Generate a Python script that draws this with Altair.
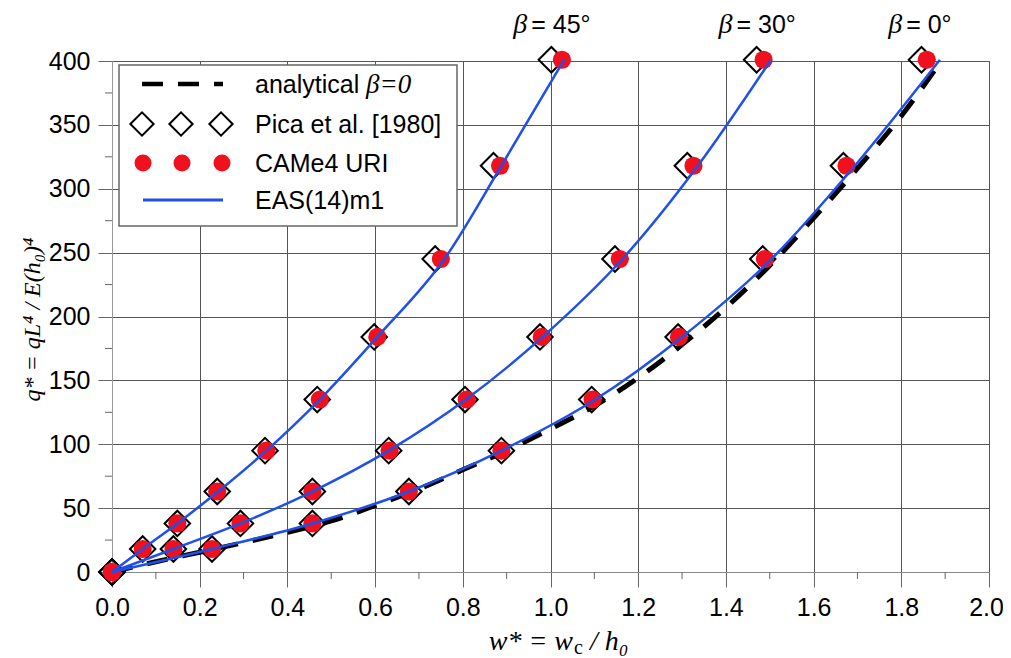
import altair as alt
import pandas as pd

# ---------------- data ----------------
q_levels = [0, 18, 38, 63, 95, 135, 184, 245, 318, 401]

# Pica et al. [1980] (diamonds)
pica_w_45 = [0.0, 0.070, 0.149, 0.240, 0.349, 0.468, 0.598, 0.737, 0.870, 1.002]
pica_w_30 = [0.0, 0.140, 0.293, 0.457, 0.631, 0.805, 0.976, 1.147, 1.312, 1.470]
pica_w_0 = [0.0, 0.228, 0.457, 0.677, 0.888, 1.094, 1.291, 1.484, 1.668, 1.846]

# CAMe4 URI (red dots)
came_w_45 = [0.0, 0.070, 0.149, 0.240, 0.352, 0.474, 0.605, 0.750, 0.885, 1.026]
came_w_30 = [0.0, 0.140, 0.293, 0.457, 0.633, 0.809, 0.980, 1.158, 1.326, 1.486]
came_w_0 = [0.0, 0.228, 0.457, 0.677, 0.888, 1.096, 1.293, 1.489, 1.675, 1.858]

# EAS(14)m1 (blue lines)
eas_w_45 = [0.0, 0.070, 0.149, 0.242, 0.352, 0.474, 0.605, 0.758, 0.888, 1.031]
eas_w_30 = [0.0, 0.140, 0.293, 0.457, 0.631, 0.807, 0.982, 1.164, 1.336, 1.503]
eas_w_0 = [0.0, 0.228, 0.457, 0.677, 0.888, 1.102, 1.300, 1.504, 1.694, 1.888]

# analytical beta = 0 (dashed)
ana_w = [0.0, 0.1, 0.2, 0.3, 0.4, 0.5, 0.6, 0.7, 0.8, 0.9, 1.0, 1.1, 1.2,
         1.3, 1.4, 1.5, 1.6, 1.7, 1.8, 1.893]
ana_q = [0, 8, 15.5, 23, 31, 40, 52, 65, 80, 95, 112, 130, 152, 178, 207,
         240, 277, 316, 357, 401]

betas = ["45", "30", "0"]
ann_w = [0.915, 1.383, 1.770]
ann_q = [422, 422, 422]
ann_text = ["= 45°", "= 30°", "= 0°"]

x_ticks = [0.0, 0.2, 0.4, 0.6, 0.8, 1.0, 1.2, 1.4, 1.6, 1.8, 2.0]
x_minor = [0.1, 0.3, 0.5, 0.7, 0.9, 1.1, 1.3, 1.5, 1.7, 1.9]
y_ticks = [0, 50, 100, 150, 200, 250, 300, 350, 400]
y_minor = [25, 75, 125, 175, 225, 275, 325, 375]


def long_df(ws):
    rows = []
    for b, wl in zip(betas, ws):
        for w, q in zip(wl, q_levels):
            rows.append({"beta": b, "w": w, "q": q})
    return pd.DataFrame(rows)


pica_df = long_df([pica_w_45, pica_w_30, pica_w_0])
came_df = long_df([came_w_45, came_w_30, came_w_0])
eas_df = long_df([eas_w_45, eas_w_30, eas_w_0])
ana_df = pd.DataFrame({"w": ana_w, "q": ana_q})
ann_df = pd.DataFrame({"w": ann_w, "q": ann_q, "t": ann_text})
xminor_df = pd.DataFrame({"w": x_minor})
yminor_df = pd.DataFrame({"q": y_minor})

# ---------------- styling ----------------
W, H = 877, 511
BLUE = "#1F50EA"
RED = "#F0101E"
GRID = "#555555"
SANS = "Liberation Sans"
SERIF = "Liberation Serif"

xs = alt.Scale(domain=[0, 2.0], nice=False, zero=False)
ys = alt.Scale(domain=[0, 400], nice=False, zero=False)

x_axis = alt.Axis(values=x_ticks, format=".1f", title=None, grid=True,
                  gridColor=GRID, gridWidth=1, tickSize=15, tickColor="#666",
                  tickWidth=1, labelFont=SANS, labelFontSize=25,
                  labelColor="black", labelPadding=8, domainColor="#888",
                  labelFlush=False,
                  labelOffset={"condition": {"test": "datum.value == 2",
                                             "value": -3},
                               "value": 0})
y_axis = alt.Axis(values=y_ticks, format="d", title="q* = qL⁴ / E(h₀)⁴",
                  grid=True, gridColor=GRID, gridWidth=1, tickSize=14,
                  tickColor="#666", tickWidth=1, labelFont=SANS,
                  labelFontSize=25, labelColor="black", labelPadding=8,
                  domainColor="#999", labelFlush=False,
                  titleFont=SERIF, titleFontStyle="italic",
                  titleFontWeight="normal", titleFontSize=24,
                  titleColor="black", titleX=-80, titleY=258,
                  titleAngle=270, titleAlign="center",
                  titleBaseline="middle")

X = alt.X("w:Q", scale=xs, axis=x_axis)
Y = alt.Y("q:Q", scale=ys, axis=y_axis)
Xn = alt.X("w:Q", scale=xs)
Yn = alt.Y("q:Q", scale=ys)

analytical = alt.Chart(ana_df).mark_line(
    color="black", strokeWidth=5, strokeDash=[21, 15],
    interpolate="monotone").encode(x=X, y=Y)

diamonds = alt.Chart(pica_df).mark_point(
    shape="diamond", size=650, filled=False, stroke="black",
    strokeWidth=2, opacity=1).encode(x=Xn, y=Yn)

dots = alt.Chart(came_df).mark_circle(
    size=330, color=RED, opacity=1).encode(x=Xn, y=Yn)

eas = alt.Chart(eas_df).mark_line(
    color=BLUE, strokeWidth=2.5, interpolate="monotone").encode(
    x=Xn, y=Yn, detail="beta:N")

xminor = alt.Chart(xminor_df).mark_rule(color="#666", strokeWidth=1).encode(
    x=Xn, y=alt.value(H), y2=alt.value(H + 7))
yminor = alt.Chart(yminor_df).mark_rule(color="#666", strokeWidth=1).encode(
    y=Yn, x=alt.value(0), x2=alt.value(-7))

ann_beta = alt.Chart(ann_df).mark_text(
    text="β", font=SERIF, fontStyle="italic", fontSize=28, align="left",
    baseline="alphabetic", color="black").encode(x=Xn, y=Yn)
ann_rest = alt.Chart(ann_df).mark_text(
    font=SANS, fontSize=25, align="left", baseline="alphabetic", dx=18,
    color="black").encode(x=Xn, y=Yn, text="t:N")

one = alt.Data(values=[{"k": 1}])

layers = [xminor, yminor, analytical, diamonds, dots, eas, ann_beta, ann_rest]

# legend (drawn inside the plot, top-left)
layers.append(alt.Chart(one).mark_rect(
    fill="white", stroke="#666", strokeWidth=1.5).encode(
    x=alt.value(7), x2=alt.value(345), y=alt.value(4), y2=alt.value(165)))
layers.append(alt.Chart(one).mark_rule(
    color="black", strokeWidth=4.5, strokeDash=[21, 15]).encode(
    x=alt.value(30), x2=alt.value(111), y=alt.value(23)))
for px in (30, 69, 109):
    layers.append(alt.Chart(one).mark_point(
        shape="diamond", size=540, filled=False, stroke="black",
        strokeWidth=2, opacity=1).encode(x=alt.value(px), y=alt.value(63)))
for px in (31, 70, 110):
    layers.append(alt.Chart(one).mark_circle(
        size=290, color=RED, opacity=1).encode(x=alt.value(px), y=alt.value(102)))
layers.append(alt.Chart(one).mark_rule(color=BLUE, strokeWidth=3).encode(
    x=alt.value(31), x2=alt.value(111), y=alt.value(139)))

legend_text = [("analytical", 23), ("Pica et al. [1980]", 63),
               ("CAMe4 URI", 102), ("EAS(14)m1", 139)]
for txt, py in legend_text:
    layers.append(alt.Chart(one).mark_text(
        font=SANS, fontSize=25, align="left", baseline="middle",
        color="black").encode(x=alt.value(143), y=alt.value(py + 1),
                              text=alt.value(txt)))
layers.append(alt.Chart(one).mark_text(
    font=SERIF, fontStyle="italic", fontSize=27, align="left",
    baseline="middle", color="black").encode(
    x=alt.value(254), y=alt.value(24), text=alt.value("β=0")))

# x-axis title pieces: w* = w_c / h0
layers.append(alt.Chart(one).mark_text(
    font=SERIF, fontStyle="italic", fontSize=28, align="right",
    baseline="alphabetic", color="black").encode(
    x=alt.value(461), y=alt.value(589), text=alt.value("w* = w")))
layers.append(alt.Chart(one).mark_text(
    font=SERIF, fontSize=20, align="left", baseline="alphabetic",
    color="black").encode(
    x=alt.value(462), y=alt.value(593), text=alt.value("c")))
layers.append(alt.Chart(one).mark_text(
    font=SERIF, fontStyle="italic", fontSize=28, align="left",
    baseline="alphabetic", color="black").encode(
    x=alt.value(478), y=alt.value(589), text=alt.value("/ h₀")))

chart = alt.layer(*layers).properties(
    width=W, height=H,
    autosize=alt.AutoSizeParams(type="none"),
    padding={"left": 104, "top": 53, "right": 14, "bottom": 85},
).configure_view(stroke="#777", strokeWidth=1)

chart.save("out.html", embed_options={"renderer": "svg", "actions": False})
